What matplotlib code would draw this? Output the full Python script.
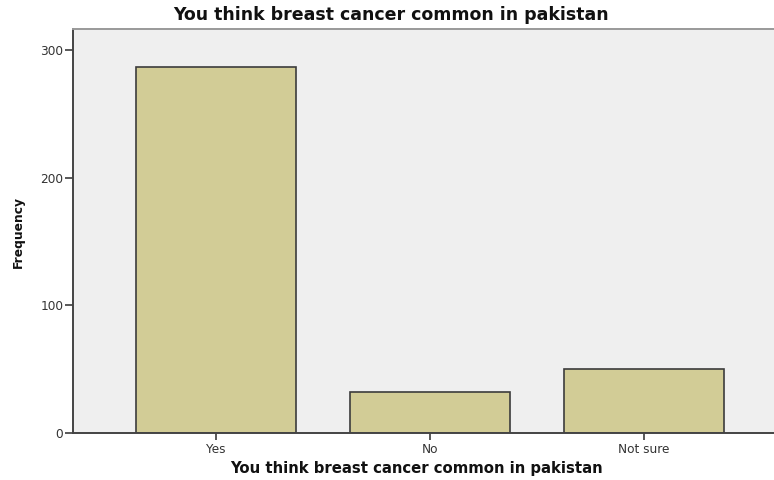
import matplotlib
matplotlib.use("Agg")
import matplotlib.pyplot as plt

# answers and counts
categories = ["Yes", "No", "Not sure"]
frequency = [287, 32, 50]
yticks = [0, 100, 200, 300]

title = "You think breast cancer common in pakistan"

fig = plt.figure(figsize=(7.74, 4.8), dpi=100)
ax = fig.add_axes([73 / 774, 47 / 480, 1 - 73 / 774, 404 / 480])
ax.set_facecolor("#efefef")

x = range(len(categories))
ax.bar(x, frequency, width=0.75, color="#d2cc96", edgecolor="#3c3c3c",
       linewidth=1.2, zorder=2)

ax.set_xlim(-0.668, 2.607)
ax.set_ylim(0, 316.4)
ax.set_xticks(list(x))
ax.set_xticklabels(categories)
ax.set_yticks(yticks)

ax.tick_params(axis="both", labelsize=8.7, colors="#3c3c3c", labelcolor="#333333",
               direction="out", width=1.2)
ax.tick_params(axis="y", length=6, pad=1)
ax.tick_params(axis="x", length=5, pad=2)

for side in ("left", "bottom"):
    ax.spines[side].set_color("#444444")
    ax.spines[side].set_linewidth(1.4)
ax.spines["top"].set_color("#999999")
ax.spines["top"].set_linewidth(1.4)
ax.spines["right"].set_visible(False)

fig.text(391 / 774, 1 - 15 / 480, title, ha="center", va="center",
         fontsize=12.5, fontweight="bold", color="#111111")
fig.text(416 / 774, 1 - 469 / 480, title, ha="center", va="center",
         fontsize=10.7, fontweight="bold", color="#111111")
fig.text(18 / 774, 1 - 232 / 480, "Frequency", ha="center", va="center",
         rotation=90, fontsize=8.8, fontweight="bold", color="#111111")

fig.savefig("out.png", dpi=100)
